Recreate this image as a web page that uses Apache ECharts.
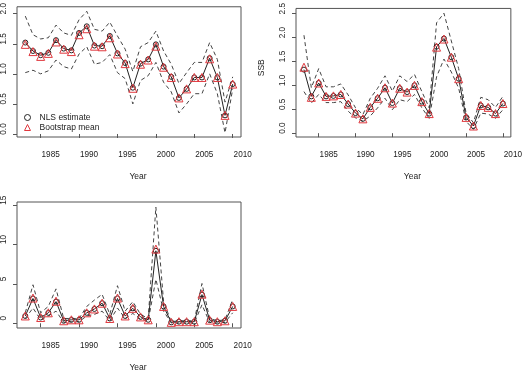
<!DOCTYPE html>
<html>
<head>
<meta charset="utf-8">
<script src="https://cdn.jsdelivr.net/npm/echarts@6/dist/echarts.min.js"></script>
<style>
body { margin: 0; background: #fff; }
#main { width: 525px; height: 373px; }
</style>
</head>
<body>
<div id="main"></div>
<script>
// bootstrap panels: estimate, bootstrap mean, dashed interval
var years = [1983, 1984, 1985, 1986, 1987, 1988, 1989, 1990, 1991, 1992, 1993, 1994, 1995, 1996,
             1997, 1998, 1999, 2000, 2001, 2002, 2003, 2004, 2005, 2006, 2007, 2008, 2009, 2010];
var xTicks = [1985, 1990, 1995, 2000, 2005, 2010];

// panel 1
var p1Est  = [1.52, 1.38, 1.31, 1.35, 1.56, 1.42, 1.39, 1.68, 1.79, 1.47, 1.46, 1.63, 1.34, 1.18,
              0.77, 1.17, 1.24, 1.49, 1.12, 0.95, 0.60, 0.75, 0.94, 0.94, 1.26, 0.94, 0.31, 0.83];
var p1Boot = [1.49, 1.37, 1.29, 1.34, 1.53, 1.41, 1.37, 1.65, 1.75, 1.46, 1.45, 1.60, 1.33, 1.17,
              0.76, 1.16, 1.23, 1.46, 1.11, 0.94, 0.60, 0.75, 0.94, 0.94, 1.25, 0.94, 0.31, 0.83];
var p1Low  = [1.02, 1.06, 1.00, 1.05, 1.23, 1.12, 1.08, 1.33, 1.45, 1.16, 1.19, 1.32, 1.02, 0.92,
              0.50, 0.89, 0.97, 1.19, 0.86, 0.70, 0.35, 0.50, 0.67, 0.67, 1.00, 0.67, 0.02, 0.75];
var p1Up   = [1.96, 1.65, 1.58, 1.60, 1.81, 1.68, 1.64, 1.90, 2.04, 1.74, 1.71, 1.86, 1.63, 1.41,
              1.04, 1.45, 1.52, 1.71, 1.38, 1.16, 0.84, 1.02, 1.19, 1.19, 1.52, 1.24, 0.53, 0.95];
var p1Ticks = [0, 0.5, 1, 1.5, 2];

// panel 2: SSB
var ssbEst  = [1.33, 0.77, 1.05, 0.77, 0.78, 0.81, 0.61, 0.42, 0.30, 0.54, 0.73, 0.95, 0.63, 0.94,
               0.86, 1.00, 0.66, 0.41, 1.81, 1.98, 1.59, 1.14, 0.33, 0.15, 0.58, 0.54, 0.41, 0.62];
var ssbBoot = [1.38, 0.75, 1.05, 0.77, 0.78, 0.81, 0.61, 0.42, 0.30, 0.54, 0.73, 0.95, 0.63, 0.94,
               0.86, 1.00, 0.66, 0.41, 1.80, 1.97, 1.59, 1.14, 0.33, 0.15, 0.58, 0.54, 0.41, 0.62];
var ssbLow  = [0.87, 0.63, 0.81, 0.64, 0.64, 0.66, 0.46, 0.32, 0.25, 0.36, 0.53, 0.73, 0.49, 0.70,
               0.66, 0.81, 0.53, 0.31, 1.18, 1.55, 1.28, 0.94, 0.25, 0.08, 0.42, 0.40, 0.31, 0.49];
var ssbUp   = [2.05, 0.95, 1.35, 0.97, 0.97, 1.03, 0.80, 0.53, 0.39, 0.73, 0.94, 1.20, 0.88, 1.20,
               1.08, 1.23, 0.87, 0.53, 2.31, 2.51, 1.93, 1.35, 0.42, 0.22, 0.75, 0.70, 0.54, 0.77];
var ssbTicks = [0, 0.5, 1, 1.5, 2, 2.5];

// panel 3
var p3Est  = [0.93, 3.15, 0.73, 1.33, 2.75, 0.32, 0.44, 0.44, 1.33, 1.82, 2.55, 0.61, 3.15, 0.93,
              1.90, 0.81, 0.44, 9.20, 2.14, 0.12, 0.20, 0.20, 0.20, 3.64, 0.40, 0.20, 0.32, 2.14];
var p3Boot = [0.93, 3.20, 0.73, 1.33, 2.80, 0.32, 0.44, 0.44, 1.33, 1.82, 2.55, 0.61, 3.20, 0.93,
              1.90, 0.81, 0.44, 9.42, 2.14, 0.12, 0.20, 0.20, 0.20, 3.70, 0.40, 0.20, 0.32, 2.14];
var p3Low  = [0.61, 1.94, 0.44, 0.93, 1.54, 0.12, 0.20, 0.20, 0.93, 1.13, 1.54, 0.32, 1.94, 0.61,
              1.25, 0.53, 0.32, 5.58, 1.54, 0.04, 0.04, 0.04, 0.04, 2.35, 0.12, 0.04, 0.12, 1.33];
var p3Up   = [1.33, 4.89, 1.33, 2.14, 4.37, 0.61, 0.61, 0.61, 2.14, 2.95, 3.68, 1.13, 4.77, 1.54,
              2.75, 1.13, 0.61, 14.76, 2.75, 0.20, 0.32, 0.32, 0.32, 5.05, 0.61, 0.32, 0.44, 3.03];
var p3Ticks = [0, 5, 10, 15];

var FONT = 'Liberation Sans';
var AXIS_COL = '#555';
var TXT_COL = '#222';
var RED = '#e0383e';

function pairs(v) {
    return years.map(function (y, i) { return [y, v[i]]; });
}

function xAxisFor(idx) {
    return {
        type: 'value', gridIndex: idx,
        min: 1981.92, max: 2011.08,
        name: 'Year', nameLocation: 'middle', nameGap: 35,
        nameTextStyle: { fontFamily: FONT, fontSize: 8.5, color: TXT_COL, padding: [0, 0, 0, 18] },
        axisLine: { show: false },
        axisTick: { show: true, length: 4, customValues: xTicks, lineStyle: { color: AXIS_COL } },
        axisLabel: {
            customValues: xTicks, margin: 14,
            fontFamily: FONT, fontSize: 8.2, color: TXT_COL, padding: [0, 0, 0, 20],
            formatter: function (v) { return String(v); }
        },
        splitLine: { show: false }
    };
}

function yAxisFor(idx, min, max, ticks, dec, name) {
    return {
        type: 'value', gridIndex: idx, min: min, max: max,
        name: name || '', nameLocation: 'middle', nameGap: 30, nameRotate: 90,
        nameTextStyle: { fontFamily: FONT, fontSize: 8.5, color: TXT_COL, padding: [0, 0, 0, 10] },
        axisLine: { show: false },
        axisTick: { show: true, length: 4, customValues: ticks, lineStyle: { color: AXIS_COL } },
        axisLabel: {
            customValues: ticks, rotate: 90, margin: 9,
            fontFamily: FONT, fontSize: 8.2, color: TXT_COL, padding: [0, 0, 0, 10],
            formatter: function (v) { return v.toFixed(dec); }
        },
        splitLine: { show: false }
    };
}

function seriesFor(idx, est, boot, low, up) {
    var dashed = { color: '#444', width: 1, type: [4, 3] };
    return [
        { type: 'line', xAxisIndex: idx, yAxisIndex: idx, data: pairs(up), showSymbol: false,
          lineStyle: dashed, silent: true, z: 1 },
        { type: 'line', xAxisIndex: idx, yAxisIndex: idx, data: pairs(low), showSymbol: false,
          lineStyle: dashed, silent: true, z: 1 },
        { name: 'NLS estimate', type: 'line', xAxisIndex: idx, yAxisIndex: idx, data: pairs(est),
          symbol: 'circle', symbolSize: 5,
          itemStyle: { color: 'rgba(255,255,255,0)', borderColor: '#222', borderWidth: 1 },
          lineStyle: { color: '#222', width: 1 }, z: 2 },
        { name: 'Bootstrap mean', type: 'line', xAxisIndex: idx, yAxisIndex: idx, data: pairs(boot),
          symbol: 'triangle', symbolSize: 8,
          itemStyle: { color: 'rgba(255,255,255,0)', borderColor: RED, borderWidth: 1 },
          lineStyle: { width: 0 }, z: 3 }
    ];
}

var chart = echarts.init(document.getElementById('main'), null, { renderer: 'canvas' });
chart.setOption({
    backgroundColor: '#fff',
    animation: false,
    grid: [
        { left: 14, top: 5, width: 227, height: 132, show: true, borderColor: AXIS_COL, borderWidth: 1, backgroundColor: 'transparent' },
        { left: 296, top: 5, width: 227, height: 132, show: true, borderColor: AXIS_COL, borderWidth: 1, backgroundColor: 'transparent' },
        { left: 14, top: 202, width: 227, height: 132, show: true, borderColor: AXIS_COL, borderWidth: 1, backgroundColor: 'transparent' }
    ],
    legend: {
        orient: 'vertical', left: 19, top: 108, itemWidth: 6, itemHeight: 6, itemGap: 1,
        textStyle: { fontFamily: FONT, fontSize: 8.5, color: TXT_COL, padding: [0, 0, 0, 4] },
        data: [
            { name: 'NLS estimate', icon: 'circle',
              itemStyle: { color: 'rgba(255,255,255,0)', borderColor: '#222', borderWidth: 1 } },
            { name: 'Bootstrap mean', icon: 'triangle',
              itemStyle: { color: 'rgba(255,255,255,0)', borderColor: RED, borderWidth: 1 } }
        ]
    },
    xAxis: [xAxisFor(0), xAxisFor(1), xAxisFor(2)],
    yAxis: [
        yAxisFor(0, -0.05, 2.115, p1Ticks, 1),
        yAxisFor(1, -0.08, 2.61, ssbTicks, 1, 'SSB'),
        yAxisFor(2, -0.6, 15.4, p3Ticks, 0)
    ],
    series: [].concat(
        seriesFor(0, p1Est, p1Boot, p1Low, p1Up),
        seriesFor(1, ssbEst, ssbBoot, ssbLow, ssbUp),
        seriesFor(2, p3Est, p3Boot, p3Low, p3Up)
    )
});
</script>
</body>
</html>
